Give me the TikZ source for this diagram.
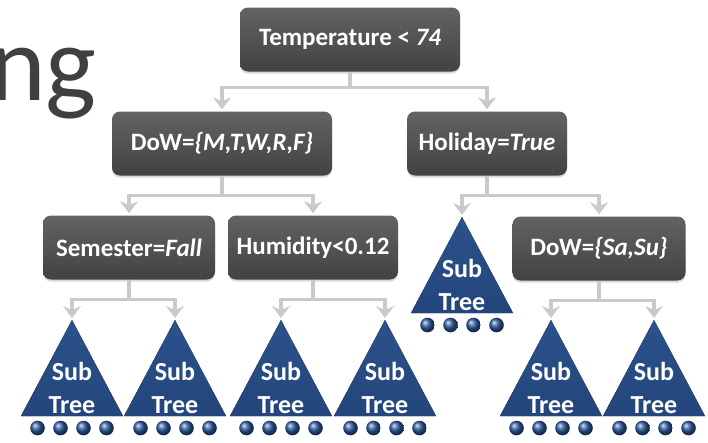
\documentclass[tikz,border=0pt]{standalone}
\usepackage{fontspec}
\setmainfont{Carlito}
\usetikzlibrary{arrows.meta,shadows}

\definecolor{boxtop}{HTML}{636363}
\definecolor{boxbot}{HTML}{424242}
\definecolor{link}{HTML}{CACACA}
\definecolor{treeblue}{HTML}{23457B}
\definecolor{treetop}{HTML}{2C528C}
\definecolor{ballblue}{HTML}{2D5A9E}
\definecolor{titlegray}{HTML}{404040}

\tikzset{
  test/.style={rounded corners=8pt, top color=boxtop, bottom color=boxbot,
    text=white, inner sep=0pt, minimum height=64pt,
    font=\fontsize{25}{30}\selectfont\bfseries,
    drop shadow={shadow xshift=0pt, shadow yshift=-2pt, opacity=.3}},
  conn/.style={draw=link, line width=3.5pt,
    -{Stealth[length=12pt,width=18pt,inset=4pt]}, shorten >=2pt},
  treetext/.style={text=white, align=center, inner sep=0pt,
    font=\fontsize{26}{33}\selectfont\bfseries},
  subtree/.pic={
    \coordinate (-top) at (0,0);
    \fill[top color=treetop, bottom color=treeblue] (0,0) -- (51,96) -- (-51,96) -- cycle;
    \node[treetext] (-label) at (0,68) {Sub\\Tree};
    \foreach \dx in {-34.5,-11.5,11.5,34.5}
      \shade[ball color=ballblue] (\dx,108) circle (7.3);
  }
}

\begin{document}
\begin{tikzpicture}[x=1pt,y=-1pt]
  \useasboundingbox (0,0) rectangle (708,442);
  \clip (0,0) rectangle (708,442);

  % heading fragment
  \node[anchor=base east, inner sep=0pt, text=titlegray,
        font=\fontsize{108}{120}\selectfont] (title) at (97,100) {ng};

  % decision nodes
  \node[test, minimum width=220pt] (temp) at (350,39.5) {Temperature < \textit{74}};
  \node[test, minimum width=220pt] (dow1) at (222,143.5) {DoW=\textit{\{M,T,W,R,F\}}};
  \node[test, minimum width=160pt] (hol) at (487,143.5) {Holiday=\textit{True}};
  \node[test, minimum width=172pt] (sem) at (129,247.5) {Semester=\textit{Fall}};
  \node[test, minimum width=170pt] (hum) at (313,247.5) {Humidity<0.12};
  \node[test, minimum width=173pt] (dow2) at (599,248.5) {DoW=\textit{\{Sa,Su\}}};

  % sub trees
  \pic (st1) at (72,320) {subtree};
  \pic (st2) at (175,320) {subtree};
  \pic (st3) at (281,320) {subtree};
  \pic (st4) at (385,320) {subtree};
  \pic (st5) at (462,217) {subtree};
  \pic (st6) at (551,320) {subtree};
  \pic (st7) at (654,320) {subtree};

  % connectors
  \draw[conn] (temp.south) -- ++(0,16) -| (dow1.north);
  \draw[conn] (temp.south) -- ++(0,16) -| (hol.north);
  \draw[conn] (dow1.south) -- ++(0,20) -| (sem.north);
  \draw[conn] (dow1.south) -- ++(0,20) -| (hum.north);
  \draw[conn] (hol.south) -- ++(0,20) -| (st5-top);
  \draw[conn] (hol.south) -- ++(0,20) -| (dow2.north);
  \draw[conn] (sem.south) -- ++(0,20) -| (st1-top);
  \draw[conn] (sem.south) -- ++(0,20) -| (st2-top);
  \draw[conn] (hum.south) -- ++(0,20) -| (st3-top);
  \draw[conn] (hum.south) -- ++(0,20) -| (st4-top);
  \draw[conn] (dow2.south) -- ++(0,20) -| (st6-top);
  \draw[conn] (dow2.south) -- ++(0,20) -| (st7-top);
\end{tikzpicture}
\end{document}
